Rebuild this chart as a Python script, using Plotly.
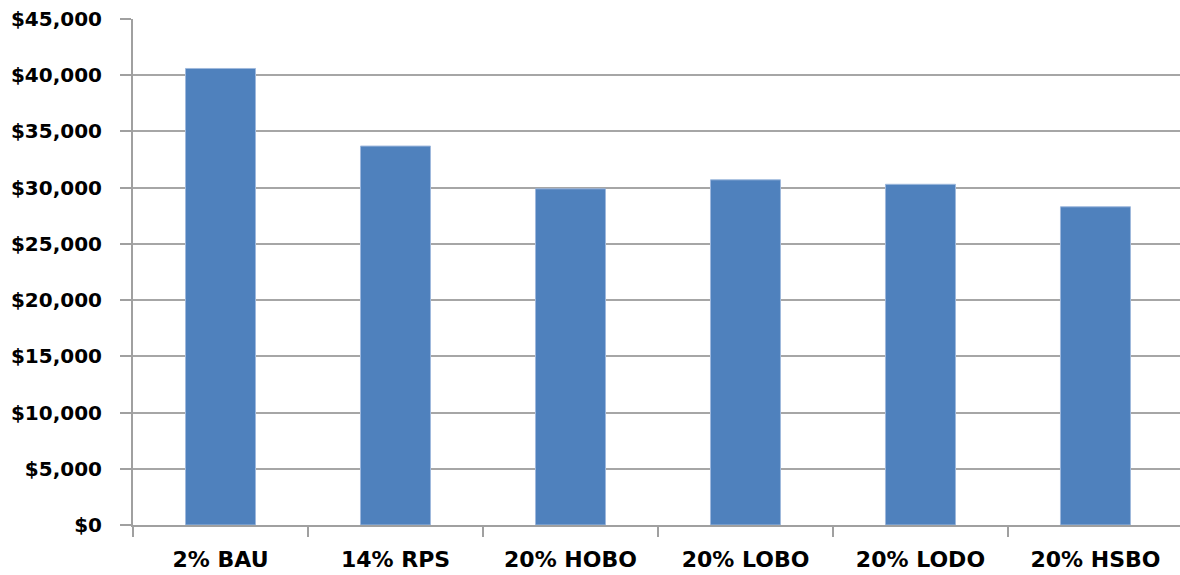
import plotly.graph_objects as go

categories = ["2% BAU", "14% RPS", "20% HOBO", "20% LOBO", "20% LODO", "20% HSBO"]
values = [40600, 33700, 29900, 30700, 30300, 28300]
tick_vals = [0, 5000, 10000, 15000, 20000, 25000, 30000, 35000, 40000, 45000]
tick_text = ["$0", "$5,000", "$10,000", "$15,000", "$20,000", "$25,000",
             "$30,000", "$35,000", "$40,000", "$45,000"]

fig = go.Figure(go.Bar(x=categories, y=values, marker=dict(color="#4F81BD",
                line=dict(color="#9FB9DD", width=1))))

yfont = dict(family="DejaVu Sans", size=20, color="#000000", weight="bold")
xfont = dict(family="DejaVu Sans", size=22, color="#000000", weight="bold")
fig.update_layout(
    width=1180, height=575,
    margin=dict(l=133, r=0, t=19, b=50),
    paper_bgcolor="white", plot_bgcolor="white",
    bargap=0.6, showlegend=False,
    xaxis=dict(range=[-0.5, 5.483], tickson="boundaries", ticks="outside", ticklen=10,
               tickcolor="#A0A0A0", tickwidth=2, showline=True, linecolor="#A0A0A0",
               linewidth=2, showgrid=False, tickfont=xfont, ticklabelstandoff=14,
               automargin=False),
    yaxis=dict(range=[0, 45000], tickvals=tick_vals, ticktext=tick_text,
               ticks="outside", ticklen=11, tickcolor="#A0A0A0", tickwidth=2,
               showline=True, linecolor="#A0A0A0", linewidth=2,
               showgrid=True, gridcolor="#A6A6A6", gridwidth=2,
               zeroline=False, tickfont=yfont, ticklabelstandoff=14,
               automargin=False),
)
fig.write_html("out.html", config={"displayModeBar": False},
               post_script="document.body.style.margin='0';document.body.style.overflow='hidden';")
